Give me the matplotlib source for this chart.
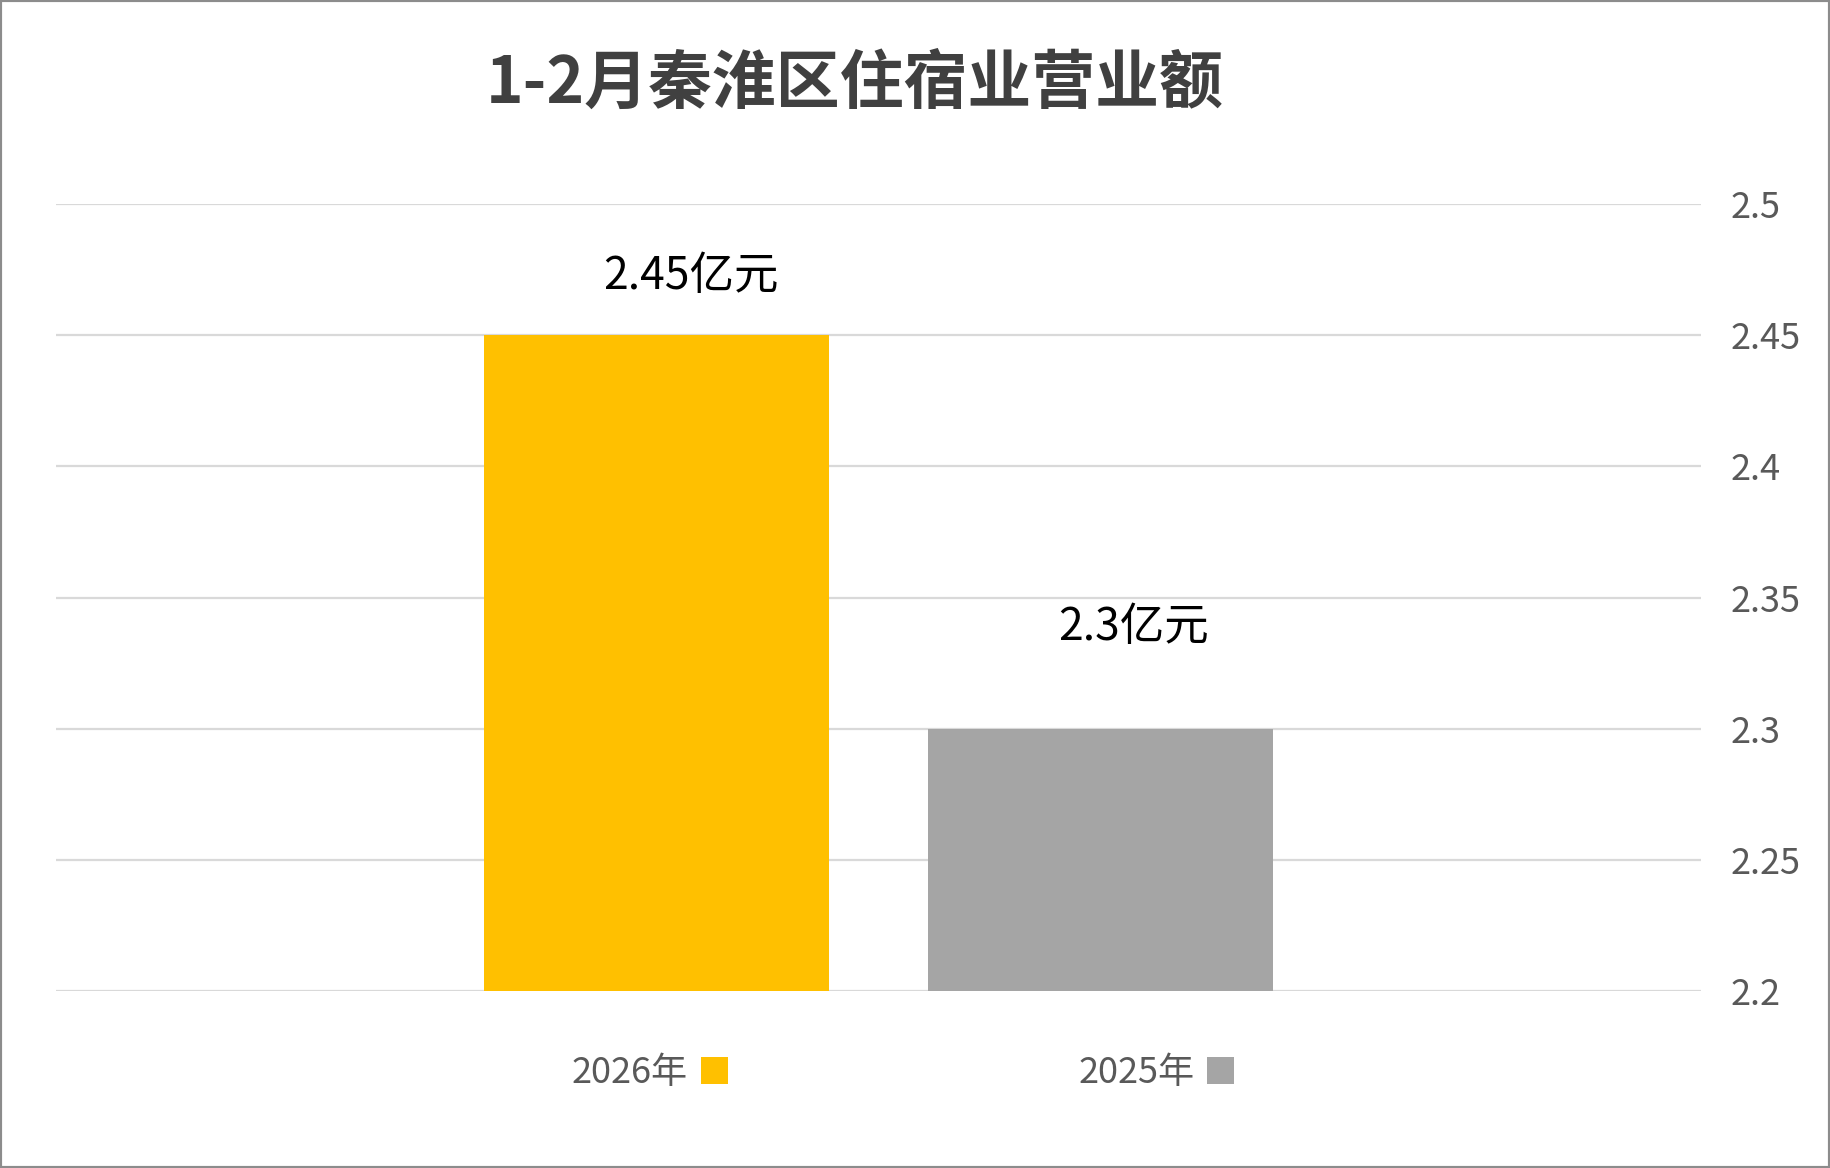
import matplotlib.pyplot as plt
import matplotlib.patches as patches

plt.rcParams['font.family'] = ['Noto Sans CJK SC', 'DejaVu Sans']

# Data (shown mirrored: axis on the right, 2026 on the left)
title = "1-2月秦淮区住宿业营业额"
series_names = ["2026年", "2025年"]
values = [2.45, 2.30]
value_labels = ["2.45亿元", "2.3亿元"]
bar_colors = ["#FFC000", "#A5A5A5"]
y_ticks = [2.2, 2.25, 2.3, 2.35, 2.4, 2.45, 2.5]

# label offsets (px) from the bar top, hand placed like the original
label_offsets = [(35, 59), (33, 102)]
bar_offsets = [-0.135, 0.135]
bar_w = 0.21

fig = plt.figure(figsize=(18.3, 11.68), dpi=100)
ax = fig.add_axes([0.0306, 0.1515, 0.8989, 0.6738])
ax.set_xlim(-0.5, 0.5)
ax.set_ylim(2.2, 2.5)

# gridlines
ax.set_yticks(y_ticks)
ax.yaxis.grid(True, color='#d9d9d9', linewidth=1.6)
ax.set_axisbelow(True)

for i, name in enumerate(series_names):
    ax.bar(bar_offsets[i], values[i], width=bar_w, bottom=0,
           color=bar_colors[i], label=name, zorder=2)
    ax.annotate(value_labels[i], (bar_offsets[i], values[i]),
                xytext=label_offsets[i], textcoords='offset pixels',
                ha='center', va='center', fontsize=32, color='black')

# y axis on the right, no tick marks
ax.yaxis.tick_right()
ax.tick_params(axis='y', length=0, pad=21, labelsize=26, labelcolor='#595959')
ax.set_yticklabels([f"{t:g}" for t in y_ticks])
ax.set_xticks([])
for s in ax.spines.values():
    s.set_visible(False)

fig.text(855 / 1830, 1 - 84 / 1168, title, ha='center', va='center',
         fontsize=46, fontweight='bold', color='#404040')

fig.legend(loc='center', bbox_to_anchor=(903 / 1830, 1 - 1073 / 1168),
           ncol=2, frameon=False, markerfirst=False, fontsize=26,
           labelcolor='#595959', handlelength=0.75, handleheight=0.75,
           handletextpad=0.36, columnspacing=9.7)

# outer border
fig.add_artist(patches.Rectangle((0, 0), 1, 1, transform=fig.transFigure,
                                 fill=False, edgecolor='#8c8c8c', linewidth=3))

fig.savefig("out.png", dpi=100, facecolor='white')
